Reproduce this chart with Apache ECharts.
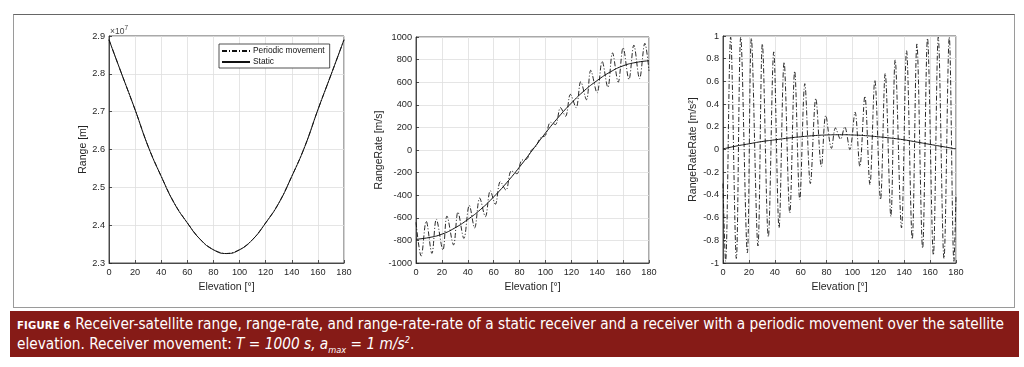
<!DOCTYPE html>
<html>
<head>
<meta charset="utf-8">
<script src="https://cdn.jsdelivr.net/npm/echarts@6/dist/echarts.min.js"></script>
<style>
  html, body { margin: 0; padding: 0; background: #fff; }
  #wrap { position: relative; width: 1024px; height: 367px; overflow: hidden; background: #fff; }
  #frame { position: absolute; left: 13px; top: 14px; width: 1002px; height: 294px; border: 1px solid #9a9a9a; border-top-color: #666; box-sizing: border-box; }
  #chart { position: absolute; left: 0; top: 0; width: 1024px; height: 310px; }
  #caption { position: absolute; left: 10px; top: 311px; width: 1009px; height: 46px; background: #861b17; color: #fff;
    font-family: 'Liberation Sans Narrow', 'DejaVu Sans Condensed', 'Liberation Sans', sans-serif; font-size: 15px; line-height: 19px; }
  #caption .line { position: absolute; left: 7px; white-space: nowrap; transform-origin: 0 0; }
  #caption .fig { font-size: 11px; font-weight: bold; letter-spacing: 0.2px; }
  #caption i sub, #caption i sup { font-size: 9px; line-height: 0; }
</style>
</head>
<body>
<div id="wrap">
  <div id="frame"></div>
  <div id="chart"></div>
  <div id="caption">
    <div class="line" id="l1" style="top:4px"><span class="fig">FIGURE 6</span> Receiver-satellite range, range-rate, and range-rate-rate of a static receiver and a receiver with a periodic movement over the satellite</div>
    <div class="line" id="l2" style="top:24px">elevation. Receiver movement: <i>T = 1000 s, a<sub>max</sub> = 1 m/s<sup>2</sup></i>.</div>
  </div>
</div>
<script>
// ---------------- data ----------------
const elevation = [0,10,20,30,40,50,60,70,80,90,100,110,120,130,140,150,160,170,180];
const xTicks = [0,20,40,60,80,100,120,140,160,180];

// Range [m]
const rangeStatic   = [28900000,27970000,27050000,26080000,25290000,24580000,24060000,23620000,23350000,23250000,23350000,23620000,24060000,24580000,25290000,26080000,27050000,27970000,28900000];
const rangePeriodic = [28900000,27970000,27050000,26080000,25290000,24580000,24060000,23620000,23350000,23250000,23350000,23620000,24060000,24580000,25290000,26080000,27050000,27970000,28900000];

// RangeRate [m/s]
const rateStatic = [-790,-775,-745,-690,-615,-525,-415,-290,-150,0,150,290,415,525,615,690,745,775,790];
const ratePeriodicElev = [0,4,7.9,12.3,15.7,20.8,23.9,29,32.4,37,41.2,45.3,49.2,53.6,57.4,61.3,65.2,69.5,73.7,78,81.4,85.8,88.9,92.8,96,100,104,107.7,111.6,115.5,119.3,123.7,127.3,131.7,135,139.9,143.8,148.2,151.8,156.2,160,164.5,168.3,172.7,176.8,180];
const ratePeriodic     = [-640,-938,-630,-915,-612,-885,-585,-840,-550,-782,-490,-690,-425,-590,-360,-480,-280,-355,-185,-210,-95,-77,-5,35,105,130,245,225,375,298,492,375,605,445,705,505,785,555,860,600,905,625,928,632,944,700];

// RangeRateRate [m/s^2]
const accStatic = [0.005,0.03,0.05,0.07,0.085,0.1,0.112,0.122,0.128,0.13,0.128,0.122,0.112,0.1,0.085,0.065,0.045,0.025,0.005];
const accPeriodicElev = [0,2,5.9,10.3,13.7,18.8,21.9,27,30.4,35,39.2,43.3,47.2,51.6,55.4,59.3,63.2,67.5,71.7,76,79.4,83.8,86.9,90.8,94,98,102,105.7,109.6,113.5,117.3,121.7,125.3,129.7,133,137.9,141.8,146.2,149.8,154.2,158,162.5,166.3,170.7,174.8,178.4,180];
const accPeriodic     = [-0.3,-0.985,0.99,-0.96,0.99,-0.91,0.98,-0.85,0.93,-0.77,0.86,-0.69,0.77,-0.56,0.69,-0.44,0.58,-0.3,0.45,-0.15,0.3,0.01,0.19,0.09,0.2,0.0,0.33,-0.15,0.47,-0.31,0.61,-0.44,0.67,-0.59,0.79,-0.69,0.87,-0.79,0.93,-0.87,0.98,-0.93,0.99,-0.96,0.99,-0.985,-0.4];

const seriesNames = ['Periodic movement', 'Static'];
const xName = 'Elevation [°]';
const yNames = ['Range [m]', 'RangeRate [m/s]', 'RangeRateRate [m/s²]'];
const exponentLabel = '×10';
const exponentPower = '7';

// ---------------- chart ----------------
const FONT = "'Liberation Sans', Arial, Helvetica, sans-serif";
const AX = '#262626';
const GRIDC = '#dedede';
const DASHDOT = [5, 2, 1, 2];

function zip(xs, ys) { return xs.map((x, i) => [x, ys[i]]); }

const grids = [
  { left: 109, top: 36, width: 235, height: 227 },
  { left: 416, top: 37, width: 233, height: 226 },
  { left: 723, top: 36, width: 233, height: 227 }
].map(g => Object.assign(g, { show: true, borderColor: AX, borderWidth: 0.8, backgroundColor: '#fff', containLabel: false }));

function xAxis(i) {
  return {
    gridIndex: i, type: 'value', min: 0, max: 180, interval: 20,
    name: xName, nameLocation: 'middle', nameGap: 19, nameMoveOverlap: false,
    nameTextStyle: { fontFamily: FONT, fontSize: 10.5, color: AX },
    axisLine: { show: true, onZero: false, lineStyle: { color: AX, width: 0.8 } },
    axisTick: { show: true, inside: true, length: 3, lineStyle: { color: AX, width: 0.8 } },
    axisLabel: { fontFamily: FONT, fontSize: 9.2, color: AX, margin: 5 },
    splitLine: { show: true, lineStyle: { color: GRIDC, width: 0.8 } }
  };
}
function yAxis(i, min, max, interval, gap, fmt) {
  return {
    gridIndex: i, type: 'value', min: min, max: max, interval: interval,
    name: yNames[i], nameLocation: 'middle', nameGap: gap, nameRotate: 90, nameMoveOverlap: false,
    nameTextStyle: { fontFamily: FONT, fontSize: 10.5, color: AX },
    axisLine: { show: true, onZero: false, lineStyle: { color: AX, width: 0.8 } },
    axisTick: { show: true, inside: true, length: 3, lineStyle: { color: AX, width: 0.8 } },
    axisLabel: { fontFamily: FONT, fontSize: 9.2, color: AX, margin: 4, formatter: fmt },
    splitLine: { show: true, lineStyle: { color: GRIDC, width: 0.8 } }
  };
}

function line(name, data, i, dashed) {
  return {
    name: name, type: 'line', xAxisIndex: i, yAxisIndex: i, data: data,
    symbol: 'none', showSymbol: false, smooth: dashed ? 0.35 : true, animation: false,
    lineStyle: { color: '#111', width: dashed ? 0.9 : 1, type: dashed ? DASHDOT : 'solid' },
    itemStyle: { color: '#111' }, z: dashed ? 3 : 4
  };
}

const option = {
  animation: false,
  grid: grids,
  xAxis: [xAxis(0), xAxis(1), xAxis(2)],
  yAxis: [
    yAxis(0, 23000000, 29000000, 1000000, 20, v => (v / 1e7).toFixed(1)),
    yAxis(1, -1000, 1000, 200, 31, v => String(v)),
    yAxis(2, -1, 1, 0.2, 24, v => String(Math.round(v * 10) / 10))
  ],
  legend: {
    left: 219, top: 44, orient: 'vertical', data: seriesNames,
    backgroundColor: '#fff', borderColor: AX, borderWidth: 0.8,
    padding: [3, 5, 2, 2], itemWidth: 28, itemHeight: 8, itemGap: 3,
    itemStyle: { opacity: 0 },
    textStyle: { fontFamily: FONT, fontSize: 8.4, color: '#111', padding: [0, 0, 0, -2] }
  },
  graphic: [{
    type: 'text', left: 110, top: 25,
    style: { text: exponentLabel + '{s|' + exponentPower + '}', font: '8.5px ' + FONT, fill: '#444',
      rich: { s: { fontSize: 6.5, fill: '#444', verticalAlign: 'top', padding: [0, 0, 6, 0] } } }
  }],
  series: [
    line(seriesNames[1], zip(elevation, rangeStatic), 0, false),
    line(seriesNames[0], zip(elevation, rangePeriodic), 0, true),
    line(seriesNames[1], zip(elevation, rateStatic), 1, false),
    line(seriesNames[0], zip(ratePeriodicElev, ratePeriodic), 1, true),
    line(seriesNames[1], zip(elevation, accStatic), 2, false),
    line(seriesNames[0], zip(accPeriodicElev, accPeriodic), 2, true)
  ]
};

const chart = echarts.init(document.getElementById('chart'), null, { renderer: 'canvas' });
chart.setOption(option);

// fit caption line 1 to the reference width
(function () {
  const l1 = document.getElementById('l1');
  const l2 = document.getElementById('l2');
  const target = 987;
  const w = l1.getBoundingClientRect().width;
  const s = target / w;
  l1.style.transform = 'scaleX(' + s + ')';
  l2.style.transform = 'scaleX(' + s + ')';
})();
</script>
</body>
</html>
